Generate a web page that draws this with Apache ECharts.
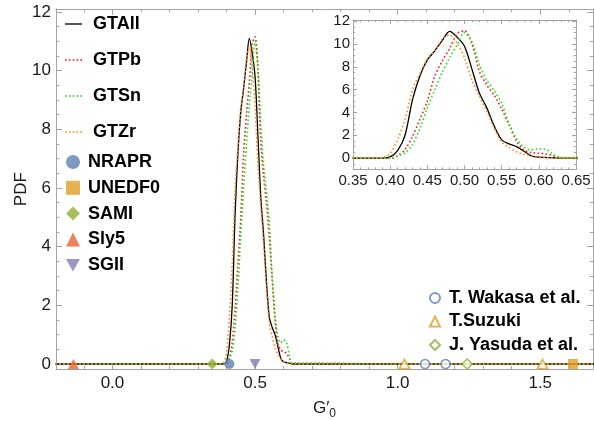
<!DOCTYPE html>
<html>
<head>
<meta charset="utf-8">
<script src="https://cdn.jsdelivr.net/npm/echarts@6/dist/echarts.min.js"></script>
<style>
  html, body { margin: 0; padding: 0; background: #fff; }
  #chart { width: 594px; height: 421px; }
</style>
</head>
<body>
<div id="chart"></div>
<script>
// G'0 sample points shared by the four PDF curves
const gPrime = [-0.2, 0.38, 0.39, 0.40, 0.41, 0.42, 0.43, 0.44, 0.45, 0.46, 0.47, 0.48, 0.49, 0.50,
  0.51, 0.52, 0.53, 0.54, 0.55, 0.56, 0.57, 0.58, 0.59, 0.60, 0.61, 0.62, 0.63, 1.7]
const gtAll = [0, 0, 0, 0.1, 0.65, 2.0, 5.1, 7.2, 8.6, 9.4, 10.3, 11.1, 10.6, 9.8,
  7.8, 5.7, 4.4, 2.8, 1.6, 1.25, 1.0, 0.6, 0.2, 0.08, 0.05, 0.03, 0, 0]
const gtPb = [0, 0, 0, 0, 0.2, 0.75, 1.9, 3.4, 5.0, 7.2, 8.5, 9.6, 10.9, 11.15,
  10.0, 7.6, 6.4, 5.5, 4.3, 2.9, 1.5, 0.7, 0.48, 0.42, 0.36, 0.2, 0.02, 0]
const gtSn = [0, 0, 0, 0, 0.18, 0.45, 1.2, 2.6, 4.4, 6.0, 7.5, 8.8, 9.9, 11.0,
  10.2, 8.2, 6.8, 5.9, 4.8, 3.0, 1.7, 0.95, 0.72, 0.82, 0.75, 0.3, 0.04, 0]
const gtZr = [0, 0, 0.05, 0.4, 1.6, 3.4, 6.0, 7.4, 8.7, 9.4, 10.4, 10.8, 10.05, 8.8,
  6.8, 5.4, 4.1, 2.6, 1.4, 0.95, 0.55, 0.33, 0.18, 0.08, 0.04, 0.02, 0, 0]

// Skyrme forces and experiments, all drawn on the PDF = 0 line
const nraprX = [0.41]
const unedf0X = [1.615]
const samiX = [0.35]
const sly5X = [-0.137]
const sgiiX = [0.50]
const wakasaX = [1.096, 1.168]
const suzukiX = [1.024, 1.508]
const yasudaX = [1.244]

// ticks
const mainXTicks = [0, 0.5, 1.0, 1.5]
const mainXMinor = [-0.1, 0.1, 0.2, 0.3, 0.4, 0.6, 0.7, 0.8, 0.9, 1.1, 1.2, 1.3, 1.4, 1.6]
const mainYTicks = [0, 2, 4, 6, 8, 10, 12]
const mainYMinor = [0.5, 1, 1.5, 2.5, 3, 3.5, 4.5, 5, 5.5, 6.5, 7, 7.5, 8.5, 9, 9.5, 10.5, 11, 11.5]
const insetXTicks = [0.35, 0.40, 0.45, 0.50, 0.55, 0.60, 0.65]
const insetXMinor = [0.36, 0.37, 0.38, 0.39, 0.41, 0.42, 0.43, 0.44, 0.46, 0.47, 0.48, 0.49,
  0.51, 0.52, 0.53, 0.54, 0.56, 0.57, 0.58, 0.59, 0.61, 0.62, 0.63, 0.64]
const insetYTicks = [0, 2, 4, 6, 8, 10, 12]
const insetYMinor = [-0.5, 0.5, 1, 1.5, 2.5, 3, 3.5, 4.5, 5, 5.5, 6.5, 7, 7.5, 8.5, 9, 9.5, 10.5, 11, 11.5]

const frameColor = '#a3a3a3'
const font = 'Liberation Sans, Arial, sans-serif'
const blue = '#5e81b5', orange = '#e19c24', green = '#8fb032', red = '#eb6235', purple = '#8778b3'

// four axes per side pair: labelled major, minor, opposite major, opposite minor
function frameAxes(kind, grid, min, max, major, minor, tickLen, labelStyle) {
  const pos = kind === 'x' ? ['bottom', 'top'] : ['left', 'right']
  const base = {
    type: 'value', gridIndex: grid, min, max,
    splitLine: { show: false },
    axisLine: { show: false, onZero: false },
    axisLabel: { show: false },
  }
  const line = { show: true, onZero: false, lineStyle: { color: frameColor, width: 1 } }
  const tick = (vals, len) => ({ show: true, inside: true, length: len, customValues: vals, lineStyle: { color: frameColor, width: 1 } })
  return [
    { ...base, position: pos[0], axisLine: line, axisTick: tick(major, tickLen), axisLabel: { show: true, customValues: major, ...labelStyle } },
    { ...base, position: pos[0], axisTick: tick(minor, tickLen * 0.55) },
    { ...base, position: pos[1], axisLine: line, axisTick: tick(major, tickLen) },
    { ...base, position: pos[1], axisTick: tick(minor, tickLen * 0.55) },
  ]
}

const labelText = { color: '#1a1a1a', fontFamily: font }

const xAxes = [
  ...frameAxes('x', 0, -0.198, 1.685, mainXTicks, mainXMinor, 6,
    { ...labelText, fontSize: 17, margin: 6, formatter: v => v.toFixed(1) }),
  ...frameAxes('x', 1, 0.35, 0.65, insetXTicks, insetXMinor, 4,
    { ...labelText, fontSize: 15, margin: 4, formatter: v => v.toFixed(2) }),
]
const yAxes = [
  ...frameAxes('y', 0, -0.18, 12.1, mainYTicks, mainYMinor, 6,
    { ...labelText, fontSize: 17, margin: 5, formatter: v => String(v) }),
  ...frameAxes('y', 1, -1.0, 12.1, insetYTicks, insetYMinor, 4,
    { ...labelText, fontSize: 15, margin: 3, formatter: v => String(v) }),
]
Object.assign(xAxes[0], {
  name: '{g|G′}{s|0}', nameLocation: 'middle', nameGap: 29, nameMoveOverlap: false,
  nameTextStyle: {
    color: '#1a1a1a', fontFamily: font,
    rich: { g: { fontSize: 17, fontFamily: font }, s: { fontSize: 12, fontFamily: font, padding: [9, 0, 0, 0] } },
  },
})
Object.assign(yAxes[0], {
  name: 'PDF', nameLocation: 'middle', nameGap: 26, nameMoveOverlap: false,
  nameTextStyle: { color: '#1a1a1a', fontFamily: font, fontSize: 17 },
})

function curve(name, ys, color, dash, width, axis, z) {
  return {
    name, type: 'line', xAxisIndex: axis, yAxisIndex: axis, z,
    data: gPrime.map((x, i) => [x, ys[i]]),
    smooth: 0.3, symbol: 'none', showSymbol: false,
    lineStyle: { color, width, type: dash },
    itemStyle: { color },
  }
}

function curves(axis) {
  return [
    curve('GTAll', gtAll, '#000', 'solid', 1.3, axis, 2),
    curve('GTPb', gtPb, '#ff1a1a', [1.6, 2.4], 1.6, axis, 3),
    curve('GTSn', gtSn, '#19e619', [1.6, 2.4], 1.6, axis, 4),
    curve('GTZr', gtZr, '#ff8c1a', [1.6, 2.4], 1.6, axis, 5),
  ]
}

const downTriangle = 'path://M0,0 L20,0 L10,18 Z'
const solidIcon = 'path://M0,0h18v1.4h-18z'
const dottedIcon = 'path://M0,0h1.8v1.8h-1.8zM4,0h1.8v1.8h-1.8zM8,0h1.8v1.8h-1.8zM12,0h1.8v1.8h-1.8zM16,0h1.8v1.8h-1.8z'

function points(name, xs, symbol, size, color, open) {
  return {
    name, type: 'scatter', xAxisIndex: 0, yAxisIndex: 0, z: 10,
    data: xs.map(x => [x, 0]),
    symbol, symbolSize: size,
    itemStyle: open
      ? { color: '#fff', borderColor: color, borderWidth: 1.6 }
      : { color, borderWidth: 0 },
  }
}

const legendText = { fontSize: 18, fontWeight: 'bold', fontFamily: font, color: '#000' }

const option = {
  animation: false,
  backgroundColor: '#fff',
  grid: [
    { left: 56, right: 1, top: 9, bottom: 51.7, outerBoundsMode: 'none', containLabel: false },
    { left: 353, right: 18, top: 20, bottom: 251.5, outerBoundsMode: 'none', containLabel: false },
  ],
  xAxis: xAxes,
  yAxis: yAxes,
  legend: [
    {
      data: [
        { name: 'GTAll', icon: solidIcon },
        { name: 'GTPb', icon: dottedIcon },
        { name: 'GTSn', icon: dottedIcon },
        { name: 'GTZr', icon: dottedIcon },
      ],
      orient: 'vertical', left: 65, top: 15, padding: 0,
      itemWidth: 17, itemHeight: 14, itemGap: 18, selectedMode: false,
      textStyle: { ...legendText, padding: [0, 0, 0, 6] },
    },
    {
      data: ['NRAPR', 'UNEDF0', 'SAMI', 'Sly5', 'SGII'],
      orient: 'vertical', left: 66, top: 153, padding: 0,
      itemWidth: 14, itemHeight: 14, itemGap: 7.8, selectedMode: false,
      textStyle: { ...legendText, padding: [0, 0, 0, 3] },
    },
    {
      data: ['T. Wakasa et al.', 'T.Suzuki', 'J. Yasuda et al.'],
      orient: 'vertical', left: 429, top: 289, padding: 0,
      itemWidth: 10, itemHeight: 10, itemGap: 5.5, selectedMode: false,
      textStyle: { ...legendText, padding: [0, 0, 0, 4] },
    },
  ],
  series: [
    ...curves(0),
    ...curves(4),
    points('NRAPR', nraprX, 'circle', 10, blue, false),
    points('UNEDF0', unedf0X, 'rect', 10, orange, false),
    points('SAMI', samiX, 'diamond', 11, green, false),
    points('Sly5', sly5X, 'triangle', [11, 10], red, false),
    points('SGII', sgiiX, downTriangle, [11, 10], purple, false),
    points('T. Wakasa et al.', wakasaX, 'circle', 9, blue, true),
    points('T.Suzuki', suzukiX, 'triangle', [10, 9], orange, true),
    points('J. Yasuda et al.', yasudaX, 'diamond', 10, green, true),
  ],
}

const chart = echarts.init(document.getElementById('chart'))
chart.setOption(option)
</script>
</body>
</html>
